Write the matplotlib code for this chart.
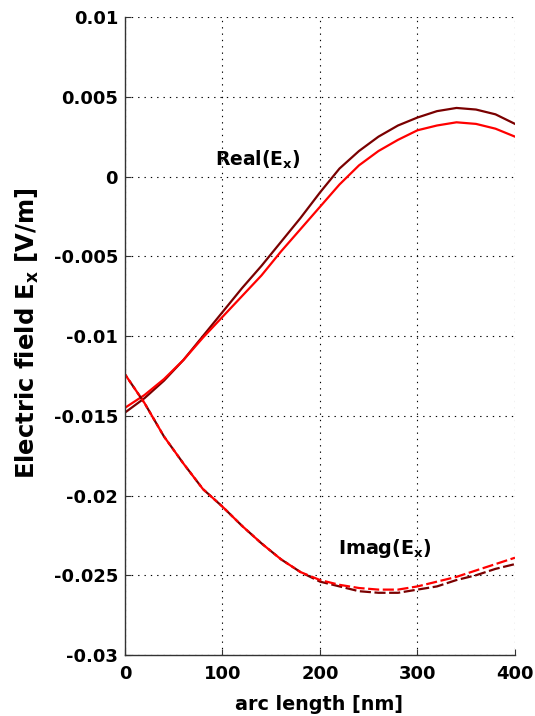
import matplotlib
matplotlib.use("Agg")
import matplotlib.pyplot as plt

plt.rcParams['font.family'] = ['DejaVu Sans']
plt.rcParams['font.weight'] = 'bold'
plt.rcParams['mathtext.fontset'] = 'custom'
plt.rcParams['mathtext.rm'] = 'DejaVu Sans:bold'
plt.rcParams['mathtext.it'] = 'DejaVu Sans:bold'
plt.rcParams['mathtext.bf'] = 'DejaVu Sans:bold'

# arc length positions [nm]
arc = [0, 20, 40, 60, 80, 100, 120, 140, 160, 180, 200,
       220, 240, 260, 280, 300, 320, 340, 360, 380, 400]

# Real part of E_x: simulated (dark) and reference (red)
real_sim = [-0.0148, -0.0139, -0.0128, -0.0115, -0.0100, -0.0085, -0.0070,
            -0.0056, -0.0041, -0.0026, -0.0010, 0.0005, 0.0016, 0.0025,
            0.0032, 0.0037, 0.0041, 0.0043, 0.0042, 0.0039, 0.0033]
real_ref = [-0.0145, -0.0137, -0.0127, -0.0115, -0.0101, -0.0088, -0.0075,
            -0.0062, -0.0047, -0.0033, -0.0019, -0.0005, 0.0007, 0.0016,
            0.0023, 0.0029, 0.0032, 0.0034, 0.0033, 0.0030, 0.0025]

# Imaginary part of E_x
imag_sim = [-0.0124, -0.0142, -0.0163, -0.0180, -0.0196, -0.0207, -0.0219,
            -0.0230, -0.0240, -0.0248, -0.0254, -0.0257, -0.0260, -0.0261,
            -0.0261, -0.0259, -0.0257, -0.0253, -0.0250, -0.0246, -0.0243]
imag_ref = [-0.0124, -0.0142, -0.0163, -0.0180, -0.0196, -0.0207, -0.0219,
            -0.0230, -0.0240, -0.0248, -0.0253, -0.0256, -0.0258, -0.0259,
            -0.0259, -0.0257, -0.0254, -0.0251, -0.0247, -0.0243, -0.0239]

x_ticks = [0, 100, 200, 300, 400]
y_ticks = [-0.03, -0.025, -0.02, -0.015, -0.01, -0.005, 0, 0.005, 0.01]
y_tick_labels = ['-0.03', '-0.025', '-0.02', '-0.015', '-0.01',
                 '-0.005', '0', '0.005', '0.01']

dark = '#7a0000'
red = '#ff0000'

fig = plt.figure(figsize=(5.35, 7.16), dpi=100)
ax = fig.add_axes([0.2336, 0.0852, 0.729, 0.891])

ax.plot(arc, real_sim, color=dark, lw=1.6)
ax.plot(arc, real_ref, color=red, lw=1.6)
ax.plot(arc, imag_sim, color=dark, lw=1.6, linestyle=(3.3, (5, 1.6)))
ax.plot(arc, imag_ref, color=red, lw=1.6, linestyle=(0, (5, 1.6)))

ax.set_xlim(0, 400)
ax.set_ylim(-0.03, 0.01)
ax.set_xticks(x_ticks)
ax.set_xticklabels([str(t) for t in x_ticks])
ax.set_yticks(y_ticks)
ax.set_yticklabels(y_tick_labels)

ax.grid(True, color='black', lw=0.8, linestyle=(0, (1.2, 4.5)))
ax.set_axisbelow(True)
for side in ('top', 'right'):
    ax.spines[side].set_visible(False)
for side in ('left', 'bottom'):
    ax.spines[side].set_color('#333333')
    ax.spines[side].set_linewidth(1.0)
ax.tick_params(direction='in', length=4, width=0.8, labelsize=13,
               colors='#333333', labelcolor='black')
ax.tick_params(axis='x', pad=7)
ax.tick_params(axis='y', pad=5)

ax.set_xlabel('arc length [nm]', fontsize=13.8, fontweight='bold')
ax.xaxis.set_label_coords(0.497, -0.062)
ax.set_ylabel(r'Electric field E$_{\mathrm{x}}$ [V/m]', fontsize=17.5,
              fontweight='bold')
ax.yaxis.set_label_coords(-0.215, 0.505)

ax.text(136, 0.00105, r'Real(E$_{\mathrm{x}}$)', fontsize=13.5,
        fontweight='bold', ha='center', va='center')
ax.text(267, -0.0233, r'Imag(E$_{\mathrm{x}}$)', fontsize=13.8,
        fontweight='bold', ha='center', va='center')

fig.savefig('out.png', dpi=100, facecolor='white')
